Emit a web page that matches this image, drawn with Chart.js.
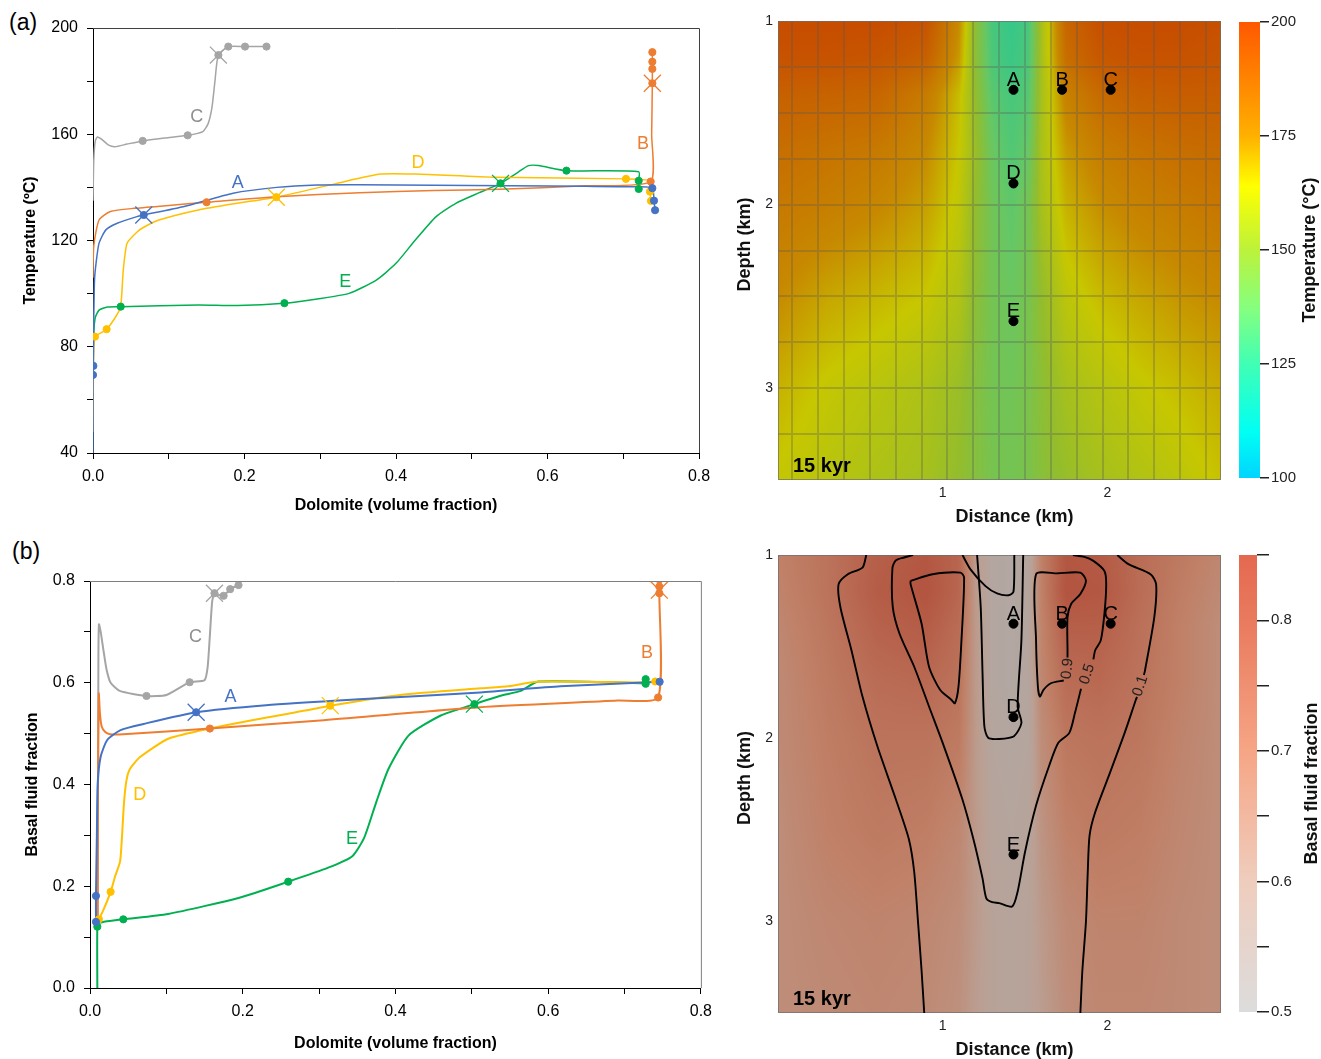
<!DOCTYPE html>
<html>
<head>
<meta charset="utf-8">
<script src="https://cdn.jsdelivr.net/npm/chart.js@4.4.1/dist/chart.umd.min.js"></script>
<style>
  html, body { margin: 0; padding: 0; background: #fff; }
  body { width: 1321px; height: 1059px; position: relative; overflow: hidden; font-family: "Liberation Sans", Arial, sans-serif; }
  .panel { position: absolute; }
  .panel canvas { display: block; }
  .tag { position: absolute; font-size: 23px; color: #000; line-height: 1; }
</style>
</head>
<body>
<div class="tag" style="left:9px;top:11px">(a)</div>
<div class="tag" style="left:12px;top:540px">(b)</div>
<div class="panel" style="left:0;top:0"><canvas id="tempLines" width="720" height="520"></canvas></div>
<div class="panel" style="left:0;top:530px"><canvas id="fluidLines" width="720" height="529"></canvas></div>
<div class="panel" style="left:730px;top:0"><canvas id="tempMap" width="500" height="530"></canvas></div>
<div class="panel" style="left:1230px;top:0"><canvas id="tempBar" width="91" height="530"></canvas></div>
<div class="panel" style="left:730px;top:530px"><canvas id="fluidMap" width="500" height="529"></canvas></div>
<div class="panel" style="left:1230px;top:530px"><canvas id="fluidBar" width="91" height="529"></canvas></div>
<script>
// ---------- paths: temperature (ºC) against dolomite volume fraction ----------
const tempA = [[0,40],[0,69.4],[0.0005,72.8],[0.001,90],[0.002,105],[0.004,111.4],[0.008,119],[0.017,124],[0.032,126.5],[0.058,129],[0.067,129.6],[0.119,132.7],[0.185,137.8],[0.2425,140],[0.296,140.9],[0.352,141],[0.45,140.8],[0.55,140.6],[0.65,140.4],[0.72,140.2],[0.7384,139.7],[0.7406,135],[0.742,131.4]];
const tempADots = [[0,69.4],[0.0005,72.8],[0.067,129.6],[0.7384,139.7],[0.7406,135],[0.742,131.4]];
const tempACross = [[0.067,129.6]];

const tempB = [[0,106],[0.001,118],[0.008,127.7],[0.023,130.9],[0.054,132.1],[0.10,133.2],[0.150,134.4],[0.2425,136.5],[0.352,138],[0.45,138.8],[0.536,139.3],[0.65,140.6],[0.7362,142.2],[0.7375,160],[0.7384,179.2],[0.7384,184.6],[0.7384,187.3],[0.7384,190.9]];
const tempBDots = [[0.150,134.4],[0.7362,142.2],[0.7384,179.2],[0.7384,184.6],[0.7384,187.3],[0.7384,190.9]];
const tempBCross = [[0.7384,179.2]];

const tempC = [[0,135],[0.001,150],[0.003,157.5],[0.006,159],[0.012,158],[0.02,156],[0.029,155.3],[0.045,156.3],[0.0656,157.5],[0.095,158.6],[0.125,159.6],[0.145,161],[0.152,164],[0.157,170],[0.161,180],[0.1655,189.8],[0.1786,193],[0.2007,193],[0.229,193]];
const tempCDots = [[0.0656,157.5],[0.125,159.6],[0.1655,189.8],[0.1786,193],[0.2007,193],[0.229,193]];
const tempCCross = [[0.1655,189.8]];

const tempD = [[0,48],[0.0005,70],[0.001,80],[0.0026,83.8],[0.009,85],[0.018,86.6],[0.030,91.3],[0.0365,95.1],[0.040,108.9],[0.045,119],[0.0585,123.3],[0.067,125],[0.087,127.7],[0.139,131.5],[0.19,134],[0.242,136.3],[0.322,141.5],[0.3795,145],[0.426,145],[0.531,143.8],[0.7036,143.2],[0.7353,142.5],[0.7353,138.4],[0.7366,134.9]];
const tempDDots = [[0.0026,83.8],[0.018,86.6],[0.242,136.3],[0.7036,143.2],[0.7353,138.4],[0.7366,134.9]];
const tempDCross = [[0.242,136.3]];

const tempE = [[0,70],[0.001,85],[0.003,91],[0.008,93.8],[0.019,95],[0.0366,95.1],[0.139,95.7],[0.191,95.5],[0.2527,96.4],[0.296,98],[0.338,100.1],[0.374,105.1],[0.400,111.4],[0.425,120],[0.453,129],[0.479,134],[0.510,138],[0.538,141.5],[0.56,145.5],[0.575,148.2],[0.588,148.2],[0.625,146.3],[0.7204,145.9],[0.7204,142.5],[0.7204,139.4]];
const tempEDots = [[0.0366,95.1],[0.2527,96.4],[0.538,141.5],[0.625,146.3],[0.7204,142.5],[0.7204,139.4]];
const tempECross = [[0.538,141.5]];

// ---------- paths: basal fluid fraction against dolomite volume fraction ----------
const fluidA = [[0.0078,0.130],[0.0078,0.181],[0.009,0.30],[0.010,0.40],[0.014,0.455],[0.0226,0.4875],[0.040,0.507],[0.070,0.519],[0.139,0.542],[0.2306,0.556],[0.352,0.5675],[0.5113,0.581],[0.616,0.593],[0.746,0.602]];
const fluidADots = [[0.0078,0.130],[0.0078,0.181],[0.139,0.542],[0.746,0.602]];
const fluidACross = [[0.139,0.542]];

const fluidB = [[0.010,0.13],[0.0105,0.40],[0.0115,0.579],[0.013,0.54],[0.0153,0.514],[0.02,0.503],[0.026,0.499],[0.0435,0.499],[0.157,0.510],[0.3015,0.526],[0.511,0.552],[0.691,0.565],[0.744,0.571],[0.7456,0.776],[0.7456,0.782],[0.7456,0.789],[0.7456,0.803]];
const fluidBDots = [[0.157,0.510],[0.744,0.571],[0.7456,0.776],[0.7456,0.789],[0.7456,0.803]];
const fluidBCross = [[0.7456,0.782]];

const fluidC = [[0.0100,0.13],[0.0105,0.40],[0.011,0.65],[0.0117,0.715],[0.014,0.70],[0.018,0.66],[0.0218,0.625],[0.027,0.60],[0.039,0.584],[0.074,0.574],[0.100,0.576],[0.1305,0.601],[0.150,0.605],[0.154,0.63],[0.1566,0.684],[0.160,0.76],[0.163,0.776],[0.168,0.773],[0.175,0.771],[0.1836,0.784],[0.1945,0.792]];
const fluidCDots = [[0.074,0.574],[0.1305,0.601],[0.163,0.776],[0.175,0.771],[0.1836,0.784],[0.1945,0.792]];
const fluidCCross = [[0.163,0.776]];

const fluidD = [[0.0117,0.135],[0.018,0.155],[0.027,0.189],[0.033,0.22],[0.0394,0.249],[0.042,0.30],[0.0446,0.366],[0.048,0.41],[0.0525,0.431],[0.0656,0.454],[0.1023,0.490],[0.1442,0.506],[0.1967,0.522],[0.2596,0.539],[0.3146,0.555],[0.4064,0.576],[0.5113,0.589],[0.548,0.593],[0.5847,0.602],[0.721,0.6005],[0.7403,0.6025]];
const fluidDDots = [[0.0117,0.135],[0.027,0.189],[0.3146,0.555],[0.7403,0.6025]];
const fluidDCross = [[0.3146,0.555]];

const fluidE = [[0.0096,0.0],[0.0096,0.12],[0.012,0.128],[0.018,0.130],[0.0436,0.135],[0.1023,0.1455],[0.1967,0.178],[0.2596,0.209],[0.312,0.2365],[0.3435,0.259],[0.359,0.295],[0.375,0.366],[0.391,0.431],[0.4174,0.4965],[0.4594,0.5356],[0.5034,0.558],[0.5376,0.5745],[0.564,0.584],[0.587,0.6025],[0.721,0.599],[0.7277,0.598],[0.7277,0.607]];
const fluidEDots = [[0.0096,0.1205],[0.0436,0.135],[0.2596,0.209],[0.5034,0.558],[0.7277,0.598],[0.7277,0.607]];
const fluidECross = [[0.5034,0.558]];

const seriesNames = ['A', 'B', 'C', 'D', 'E'];
const seriesColors = ['#4472c4', '#ed7d31', '#a5a5a5', '#ffc000', '#00b050'];
const nameColors = ['#4472c4', '#ed7d31', '#8f8f8f', '#ffc000', '#00b050'];
// where each path's letter sits, in data units
const tempNamePos = [[0.191,141.7],[0.726,156.3],[0.137,166.5],[0.429,149.2],[0.333,104.4]];
const fluidNamePos = [[0.184,0.572],[0.7295,0.658],[0.138,0.690],[0.065,0.379],[0.343,0.293]];

const dolomiteTicks = [0, 0.1, 0.2, 0.3, 0.4, 0.5, 0.6, 0.7, 0.8];
const tempTicks = [40, 60, 80, 100, 120, 140, 160, 180, 200];
const fluidTicks = [0, 0.1, 0.2, 0.3, 0.4, 0.5, 0.6, 0.7, 0.8];

// ---------- 15 kyr sections: node grid (distance km, depth km) ----------
const sectionDist = [0, 0.3, 0.6, 0.9, 1.1, 1.2, 1.3, 1.42, 1.52, 1.6, 1.75, 1.95, 2.2, 2.45, 2.69];
const sectionDepth = [1.0, 1.2, 1.4, 1.7, 2.0, 2.5, 3.0, 3.5];
const tempField = [
  [197, 197, 197, 195, 175, 148, 130, 126, 130, 155, 188, 196, 197, 197, 196],
  [195, 195, 194, 190, 172, 148, 131, 127, 131, 155, 185, 193, 195, 195, 194],
  [190, 189, 188, 180, 166, 150, 134, 130, 133, 155, 178, 186, 190, 191, 191],
  [185, 183, 181, 175, 164, 152, 138, 132, 137, 156, 172, 179, 183, 185, 186],
  [181, 179, 176, 171, 162, 150, 140, 135, 141, 155, 168, 174, 178, 180, 182],
  [175, 170, 167, 164, 158, 148, 141, 138, 142, 150, 161, 166, 170, 173, 175],
  [168, 163, 160, 157, 152, 146, 141, 140, 143, 148, 155, 159, 163, 166, 169],
  [163, 160, 157, 155, 150, 146, 142, 141, 143, 147, 151, 155, 158, 161, 165]
];
const fluidField = [
  [0.70, 0.74, 0.80, 0.83, 0.78, 0.62, 0.55, 0.54, 0.56, 0.70, 0.83, 0.82, 0.76, 0.72, 0.68],
  [0.69, 0.74, 0.81, 0.84, 0.78, 0.62, 0.55, 0.54, 0.56, 0.70, 0.84, 0.83, 0.76, 0.71, 0.67],
  [0.68, 0.73, 0.79, 0.81, 0.76, 0.62, 0.55, 0.54, 0.56, 0.69, 0.80, 0.80, 0.75, 0.70, 0.66],
  [0.67, 0.72, 0.76, 0.77, 0.74, 0.62, 0.55, 0.54, 0.56, 0.68, 0.76, 0.77, 0.74, 0.70, 0.66],
  [0.67, 0.71, 0.74, 0.74, 0.72, 0.62, 0.56, 0.55, 0.56, 0.66, 0.73, 0.74, 0.73, 0.69, 0.66],
  [0.66, 0.70, 0.72, 0.71, 0.68, 0.62, 0.57, 0.56, 0.57, 0.64, 0.70, 0.72, 0.71, 0.68, 0.66],
  [0.66, 0.68, 0.69, 0.68, 0.66, 0.62, 0.58, 0.57, 0.58, 0.62, 0.67, 0.69, 0.69, 0.67, 0.66],
  [0.66, 0.67, 0.68, 0.67, 0.65, 0.61, 0.58, 0.57, 0.58, 0.61, 0.66, 0.68, 0.68, 0.67, 0.66]
];
const meshDist = [0.087, 0.244, 0.401, 0.558, 0.715, 0.872, 1.029, 1.186, 1.343, 1.5, 1.657, 1.814, 1.971, 2.128, 2.285, 2.442, 2.599];
const meshDepth = [1.25, 1.5, 1.75, 2, 2.25, 2.5, 2.75, 3, 3.25];

// observation points
const pointDist = [1.43, 1.725, 2.02, 1.43, 1.43];
const pointDepth = [1.375, 1.375, 1.375, 1.885, 2.635];

// dolomite contour lines (distance, depth), split where a level label sits
const contour01Left = [[0.536,1.0],[0.513,1.069],[0.424,1.105],[0.368,1.159],[0.379,1.285],[0.446,1.52],[0.513,1.773],[0.603,2.043],[0.715,2.332],[0.794,2.549],[0.827,2.729],[0.85,3.0],[0.872,3.271],[0.888,3.5]];
const contour01RightTop = [[2.06,1.0],[2.128,1.05],[2.262,1.105],[2.296,1.159],[2.285,1.339],[2.229,1.628],[2.222,1.655]];
const contour01RightLow = [[2.18,1.775],[2.173,1.79],[2.105,1.971],[2.016,2.188],[1.926,2.404],[1.892,2.53],[1.881,2.729],[1.87,3.0],[1.848,3.271],[1.836,3.5]];
const contour05Main = [[0.82,1.0],[0.76,1.015],[0.715,1.03],[0.695,1.07],[0.697,1.285],[0.738,1.43],[0.827,1.61],[0.917,1.827],[1.007,2.043],[1.119,2.332],[1.186,2.549],[1.242,2.765],[1.265,2.874],[1.30,2.895],[1.343,2.90],[1.422,2.919],[1.455,2.838],[1.5,2.621],[1.567,2.368],[1.646,2.152],[1.702,2.025],[1.769,1.971],[1.803,1.863],[1.84,1.73]];
const contour05Top = [[1.915,1.57],[1.926,1.52],[1.96,1.466],[1.982,1.321],[1.993,1.159],[1.982,1.087],[1.915,1.032],[1.86,1.01],[1.791,1.0]];
const contour09RightA = [[1.758,1.56],[1.758,1.52],[1.758,1.339],[1.78,1.267],[1.836,1.213],[1.87,1.141],[1.836,1.096],[1.70,1.10],[1.567,1.105],[1.567,1.466],[1.578,1.718],[1.59,1.773],[1.612,1.736],[1.657,1.70],[1.735,1.685]];
const contour09Left = [[0.805,1.141],[0.939,1.105],[1.108,1.096],[1.13,1.123],[1.114,1.466],[1.096,1.718],[1.074,1.809],[1.052,1.79],[0.984,1.736],[0.917,1.61],[0.872,1.375],[0.805,1.159],[0.805,1.141]];
const contourCore = [[1.209,1.0],[1.231,1.285],[1.242,1.646],[1.253,1.935],[1.276,1.998],[1.343,2.004],[1.433,1.989],[1.478,1.917],[1.455,1.827],[1.478,1.466],[1.489,1.0]];
const contourCap = [[1.12,1.0],[1.17,1.08],[1.26,1.17],[1.33,1.21],[1.40,1.22],[1.43,1.20],[1.435,1.0]];
const contourLabels = [['0.9',1.758,1.62,-84],['0.5',1.878,1.65,-72],['0.1',2.200,1.715,-72]];

// colour ramps
const tempStops = [[100,'#00d4ff'],[110,'#00fff4'],[125,'#40ffb4'],[137,'#84ff80'],[150,'#bcf23a'],[164,'#ffff00'],[175,'#ffb000'],[200,'#ff5800']];
const fluidStops = [[0.5,'#dcdcdc'],[0.6,'#efcdbd'],[0.7,'#f6a585'],[0.8,'#e97a5e'],[0.85,'#e4694f']];

// ---------- helpers ----------
Chart.defaults.font.family = '"Liberation Sans", Arial, sans-serif';
Chart.defaults.color = '#000';

const toPts = arr => arr.map(([x, y]) => ({x, y}));
const hexRgb = h => [parseInt(h.slice(1,3),16), parseInt(h.slice(3,5),16), parseInt(h.slice(5,7),16)];
function rampColor(stops, v) {
  if (v <= stops[0][0]) return hexRgb(stops[0][1]);
  for (let i = 1; i < stops.length; i++) {
    if (v <= stops[i][0]) {
      const t = (v - stops[i-1][0]) / (stops[i][0] - stops[i-1][0]);
      const a = hexRgb(stops[i-1][1]), b = hexRgb(stops[i][1]);
      return [a[0] + (b[0]-a[0])*t, a[1] + (b[1]-a[1])*t, a[2] + (b[2]-a[2])*t];
    }
  }
  return hexRgb(stops[stops.length-1][1]);
}
function locate(nodes, v) {
  let i = 0;
  while (i < nodes.length - 2 && v > nodes[i+1]) i++;
  let t = (v - nodes[i]) / (nodes[i+1] - nodes[i]);
  t = Math.max(0, Math.min(1, t));
  return [i, t];
}
function sampleField(rows, d, z) {
  const [i, tx] = locate(sectionDist, d);
  const [j, tz] = locate(sectionDepth, z);
  const top = rows[j][i] * (1 - tx) + rows[j][i+1] * tx;
  const bot = rows[j+1][i] * (1 - tx) + rows[j+1][i+1] * tx;
  return top * (1 - tz) + bot * tz;
}

// letters next to the dolomite paths
const pathNames = {
  id: 'pathNames',
  afterDatasetsDraw(chart, args, opts) {
    const {ctx, scales: {x, y}} = chart;
    ctx.save();
    ctx.font = '18px "Liberation Sans", Arial, sans-serif';
    ctx.textAlign = 'center';
    ctx.textBaseline = 'middle';
    opts.pos.forEach((p, k) => {
      ctx.fillStyle = nameColors[k];
      ctx.fillText(seriesNames[k], x.getPixelForValue(p[0]), y.getPixelForValue(p[1]));
    });
    ctx.restore();
  }
};
// frame: top and right edges of the plot box
const plotFrame = {
  id: 'plotFrame',
  afterDraw(chart, args, opts) {
    const {ctx, chartArea: a} = chart;
    ctx.save();
    ctx.strokeStyle = opts.color;
    ctx.lineWidth = 1;
    ctx.beginPath();
    ctx.moveTo(a.left, a.top + 0.5);
    ctx.lineTo(a.right + 0.5, a.top + 0.5);
    ctx.lineTo(a.right + 0.5, a.bottom);
    ctx.stroke();
    ctx.restore();
  }
};

function pathSets(groups, width) {
  const sets = [];
  groups.forEach((g, k) => {
    const col = seriesColors[k];
    sets.push({data: toPts(g[0]), showLine: true, borderColor: col, borderWidth: width, pointRadius: 0, tension: 0.2, order: 3});
    sets.push({data: toPts(g[1]), showLine: false, backgroundColor: col, borderColor: col, pointRadius: 3.6, order: 2});
    sets.push({data: toPts(g[2]), showLine: false, pointStyle: 'crossRot', pointRadius: 12, borderColor: col, borderWidth: 1.3, order: 1});
  });
  return sets;
}

function dolomiteChart(id, groups, cfg) {
  return new Chart(document.getElementById(id), {
    type: 'scatter',
    data: {datasets: pathSets(groups, cfg.lineWidth)},
    options: {
      responsive: false, animation: false,
      layout: {padding: {left: 0, top: cfg.top, right: cfg.right, bottom: 0}},
      plugins: {legend: {display: false}, tooltip: {enabled: false}, pathNames: {pos: cfg.names}, plotFrame: {color: cfg.frame}},
      scales: {
        x: {
          type: 'linear', min: 0, max: 0.8,
          afterBuildTicks: s => { s.ticks = dolomiteTicks.map(v => ({value: v})); },
          afterFit: s => { s.height = cfg.xh; },
          ticks: {autoSkip: false, maxRotation: 0, padding: 8, font: {size: 16}, color: '#000',
                  callback: v => (Math.round(v * 10) % 2 === 0 ? v.toFixed(1) : '')},
          grid: {drawOnChartArea: false, drawTicks: true, tickLength: 6, color: '#000'},
          border: {color: '#000'},
          title: {display: true, text: 'Dolomite (volume fraction)', font: {size: 16, weight: 'bold'}, color: '#000', padding: {top: 0, bottom: cfg.xtPad}}
        },
        y: {
          type: 'linear', min: cfg.ymin, max: cfg.ymax,
          afterBuildTicks: s => { s.ticks = cfg.yticks.map(v => ({value: v})); },
          afterFit: s => { s.width = cfg.yw; },
          ticks: {autoSkip: false, padding: 9, font: {size: 16}, color: '#000', callback: cfg.ylabel},
          grid: {drawOnChartArea: false, drawTicks: true, tickLength: 6, color: '#000'},
          border: {color: '#000'},
          title: {display: true, text: cfg.ytitle, font: {size: 16, weight: 'bold'}, color: '#000', padding: {top: cfg.ytPad, bottom: 0}}
        }
      }
    },
    plugins: [pathNames, plotFrame]
  });
}

dolomiteChart('tempLines', [
  [tempA, tempADots, tempACross], [tempB, tempBDots, tempBCross], [tempC, tempCDots, tempCCross],
  [tempD, tempDDots, tempDCross], [tempE, tempEDots, tempECross]
], {
  lineWidth: 1.5, top: 28, right: 21, xh: 67, yw: 93, xtPad: 5, ytPad: 21, frame: '#404040',
  ymin: 40, ymax: 200, yticks: tempTicks, ytitle: 'Temperature (ºC)', names: tempNamePos,
  ylabel: v => (v % 40 === 0 ? String(v) : '')
});

dolomiteChart('fluidLines', [
  [fluidA, fluidADots, fluidACross], [fluidB, fluidBDots, fluidBCross], [fluidC, fluidCDots, fluidCCross],
  [fluidD, fluidDDots, fluidDCross], [fluidE, fluidEDots, fluidECross]
], {
  lineWidth: 2, top: 51, right: 17, xh: 71, yw: 90, xtPad: 6, ytPad: 23, frame: '#7f7f7f',
  ymin: 0, ymax: 0.8, yticks: fluidTicks, ytitle: 'Basal fluid fraction', names: fluidNamePos,
  ylabel: v => (Math.round(v * 10) % 2 === 0 ? v.toFixed(1) : '')
});

// ---------- section maps ----------
const sectionField = {
  id: 'sectionField',
  beforeDatasetsDraw(chart, args, o) {
    const {ctx, chartArea: a, scales: {x, y}} = chart;
    const w = Math.round(a.right - a.left), h = Math.round(a.bottom - a.top);
    const off = document.createElement('canvas');
    off.width = w; off.height = h;
    const octx = off.getContext('2d');
    const img = octx.createImageData(w, h);
    for (let j = 0; j < h; j++) {
      const z = y.getValueForPixel(a.top + j + 0.5);
      for (let i = 0; i < w; i++) {
        const d = x.getValueForPixel(a.left + i + 0.5);
        const c = rampColor(o.stops, sampleField(o.rows, d, z));
        const k = (j * w + i) * 4;
        img.data[k] = c[0] * o.shade;
        img.data[k+1] = c[1] * o.shade;
        img.data[k+2] = c[2] * o.shade;
        img.data[k+3] = 255;
      }
    }
    octx.putImageData(img, 0, 0);
    ctx.save();
    ctx.drawImage(off, a.left, a.top);
    if (o.mesh) {
      ctx.strokeStyle = 'rgba(85,85,85,0.3)';
      ctx.lineWidth = 2;
      ctx.beginPath();
      meshDist.forEach(v => { const px = Math.round(x.getPixelForValue(v)); ctx.moveTo(px, a.top); ctx.lineTo(px, a.bottom); });
      meshDepth.forEach(v => { const py = Math.round(y.getPixelForValue(v)); ctx.moveTo(a.left, py); ctx.lineTo(a.right, py); });
      ctx.stroke();
    }
    ctx.strokeStyle = 'rgba(110,110,110,0.7)';
    ctx.lineWidth = 1;
    ctx.strokeRect(a.left + 0.5, a.top + 0.5, w - 1, h - 1);
    ctx.restore();
  },
  afterDatasetsDraw(chart, args, o) {
    const {ctx, chartArea: a, scales: {x, y}} = chart;
    ctx.save();
    // contour level labels
    if (o.levels) {
      ctx.font = '15px "Liberation Sans", Arial, sans-serif';
      ctx.fillStyle = '#222';
      ctx.textAlign = 'center';
      ctx.textBaseline = 'middle';
      o.levels.forEach(([t, d, z, ang]) => {
        ctx.save();
        ctx.translate(x.getPixelForValue(d), y.getPixelForValue(z));
        ctx.rotate(ang * Math.PI / 180);
        ctx.fillText(t, 0, 0);
        ctx.restore();
      });
    }
    // point letters
    const meta = chart.getDatasetMeta(chart.data.datasets.length - 1);
    ctx.font = '20px "Liberation Sans", Arial, sans-serif';
    ctx.fillStyle = '#000';
    ctx.textAlign = 'center';
    ctx.textBaseline = 'alphabetic';
    meta.data.forEach((el, k) => ctx.fillText(seriesNames[k], el.x, el.y - 4));
    // time stamp
    ctx.font = 'bold 20px "Liberation Sans", Arial, sans-serif';
    ctx.textAlign = 'left';
    ctx.fillText('15 kyr', a.left + 15, a.bottom - 8);
    // axis titles
    ctx.font = 'bold 18px "Liberation Sans", Arial, sans-serif';
    ctx.fillStyle = '#111';
    ctx.textAlign = 'center';
    ctx.textBaseline = 'middle';
    ctx.fillText('Distance (km)', (a.left + a.right) / 2 + 15, chart.height - o.xTitleGap);
    ctx.save();
    ctx.translate(15, (a.top + a.bottom) / 2 - 6);
    ctx.rotate(-Math.PI / 2);
    ctx.fillText('Depth (km)', 0, 0);
    ctx.restore();
    ctx.restore();
  }
};

function sectionChart(id, cfg) {
  const sets = cfg.contours.map(c => ({data: toPts(c), showLine: true, borderColor: '#000', borderWidth: 1.9, pointRadius: 0, tension: 0.25}));
  sets.push({data: pointDist.map((d, k) => ({x: d, y: pointDepth[k]})), showLine: false, pointRadius: 4.5, backgroundColor: '#000', borderColor: '#000'});
  return new Chart(document.getElementById(id), {
    type: 'scatter',
    data: {datasets: sets},
    options: {
      responsive: false, animation: false,
      layout: {padding: {left: 0, top: cfg.top, right: 9, bottom: 0}},
      plugins: {legend: {display: false}, tooltip: {enabled: false},
                sectionField: {rows: cfg.rows, stops: cfg.stops, shade: 0.78, mesh: cfg.mesh, levels: cfg.levels, xTitleGap: cfg.xTitleGap}},
      scales: {
        x: {
          type: 'linear', min: 0, max: 2.69,
          afterBuildTicks: s => { s.ticks = [{value: 1}, {value: 2}]; },
          afterFit: s => { s.height = cfg.xh; },
          ticks: {padding: 5, font: {size: 14}, color: '#222', maxRotation: 0},
          grid: {display: false, drawTicks: false}, border: {display: false}
        },
        y: {
          type: 'linear', min: 1, max: 3.5, reverse: true,
          afterBuildTicks: s => { s.ticks = [{value: 1}, {value: 2}, {value: 3}]; },
          afterFit: s => { s.width = 48; },
          ticks: {padding: 5, font: {size: 14}, color: '#222'},
          grid: {display: false, drawTicks: false}, border: {display: false}
        }
      }
    },
    plugins: [sectionField]
  });
}

sectionChart('tempMap', {rows: tempField, stops: tempStops, mesh: true, contours: [], levels: null, top: 21, xh: 50, xTitleGap: 13});
sectionChart('fluidMap', {
  rows: fluidField, stops: fluidStops, mesh: false, top: 25, xh: 46, xTitleGap: 9, levels: contourLabels,
  contours: [contour01Left, contour01RightTop, contour01RightLow, contour05Main, contour05Top, contour09RightA, contour09Left, contourCore, contourCap]
});

// ---------- colour bars ----------
const barTitle = {
  id: 'barTitle',
  afterDraw(chart, args, o) {
    const {ctx, chartArea: a} = chart;
    ctx.save();
    ctx.translate(o.x, (a.top + a.bottom) / 2);
    ctx.rotate(-Math.PI / 2);
    ctx.font = 'bold 18px "Liberation Sans", Arial, sans-serif';
    ctx.fillStyle = '#111';
    ctx.textAlign = 'center';
    ctx.textBaseline = 'middle';
    ctx.fillText(o.text, 0, 0);
    ctx.restore();
  }
};

function colourBar(id, cfg) {
  return new Chart(document.getElementById(id), {
    type: 'bar',
    data: {labels: [''], datasets: [{
      data: [[cfg.min, cfg.max]], borderWidth: 0, barPercentage: 1, categoryPercentage: 1,
      backgroundColor: c => {
        const ch = c.chart, a = ch.chartArea;
        if (!a) return '#ccc';
        const ys = ch.scales.y;
        const g = ch.ctx.createLinearGradient(0, ys.getPixelForValue(cfg.min), 0, ys.getPixelForValue(cfg.max));
        cfg.stops.forEach(([v, col]) => g.addColorStop((v - cfg.min) / (cfg.max - cfg.min), col));
        return g;
      }
    }]},
    options: {
      responsive: false, animation: false,
      layout: {padding: {left: 9, top: cfg.top, right: 0, bottom: cfg.bottom}},
      plugins: {legend: {display: false}, tooltip: {enabled: false}, barTitle: {text: cfg.title, x: cfg.titleX}},
      scales: {
        x: {display: false},
        y: {
          position: 'right', min: cfg.min, max: cfg.max,
          afterBuildTicks: s => { s.ticks = cfg.ticks.map(v => ({value: v})); },
          afterFit: s => { s.width = cfg.axisW; },
          ticks: {padding: 2, font: {size: 15}, color: '#222', callback: cfg.label},
          grid: {drawOnChartArea: false, drawTicks: true, tickLength: cfg.tickLen, color: '#222', lineWidth: 1.5},
          border: {display: false}
        }
      }
    },
    plugins: [barTitle]
  });
}

const tempBarTicks = [100, 125, 150, 175, 200];
const fluidBarTicks = [0.5, 0.55, 0.6, 0.65, 0.7, 0.75, 0.8, 0.85];
colourBar('tempBar', {min: 100, max: 200, stops: tempStops, ticks: tempBarTicks, top: 22, bottom: 52, axisW: 61, tickLen: 9,
  title: 'Temperature (°C)', titleX: 80, label: v => String(v)});
colourBar('fluidBar', {min: 0.5, max: 0.85, stops: fluidStops, ticks: fluidBarTicks, top: 25, bottom: 47, axisW: 64, tickLen: 12,
  title: 'Basal fluid fraction', titleX: 82,
  label: v => (Math.abs(v * 10 - Math.round(v * 10)) < 1e-6 ? v.toFixed(1) : '')});
</script>
</body>
</html>
